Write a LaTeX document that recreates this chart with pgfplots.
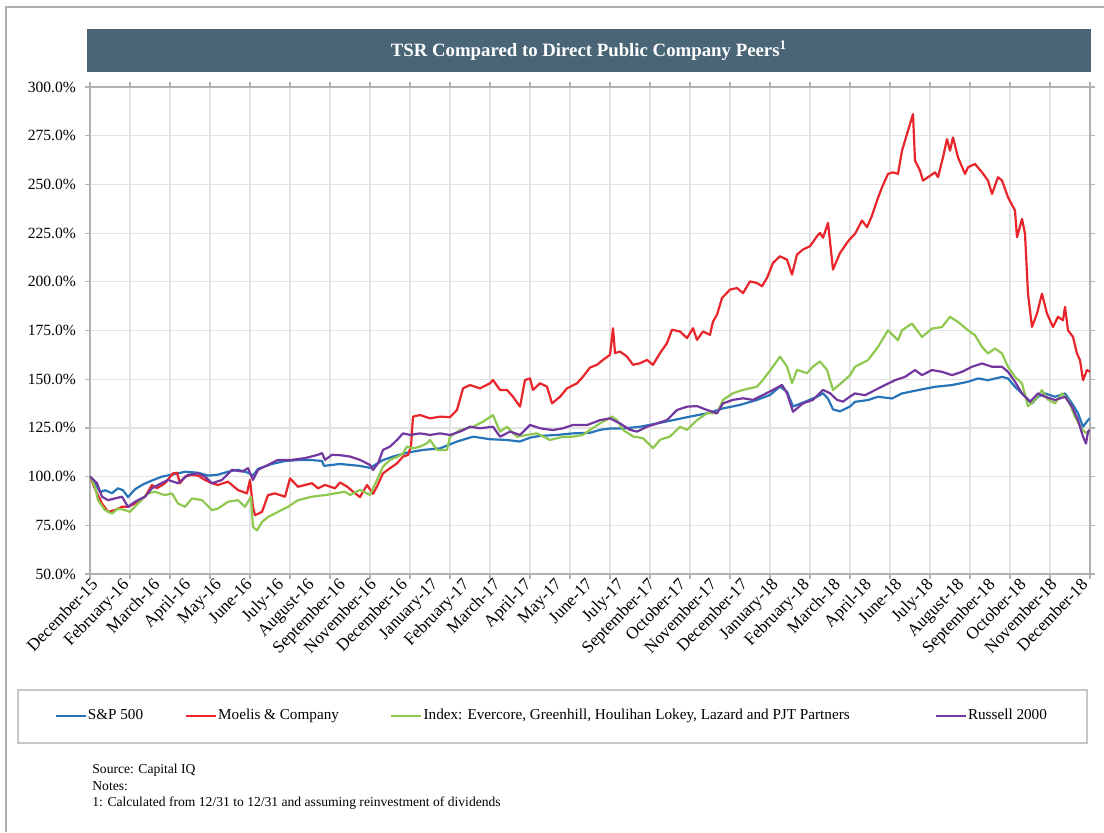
\documentclass[border=0pt]{standalone}
\usepackage{fontspec}
\setmainfont{Liberation Serif}
\usepackage{pgfplots}
\pgfplotsset{compat=1.18}
\definecolor{spblue}{RGB}{40,116,184}
\definecolor{mred}{RGB}{232,37,42}
\definecolor{igreen}{RGB}{143,200,80}
\definecolor{rpurple}{RGB}{115,55,160}
\definecolor{titlebar}{RGB}{74,101,118}
\definecolor{framegray}{RGB}{175,175,175}
\begin{document}
\begin{tikzpicture}
\begin{scope}[x=0.5pt,y=-0.5pt]
\useasboundingbox (0,0) rectangle (1104,832);
\draw[framegray, line width=0.8pt] (6,832) -- (6,7) -- (1104,7);
\fill[titlebar] (87,29) rectangle (1091,72);
\node[text=white, font=\bfseries\fontsize{9.4}{11}\selectfont] at (589,50.5) {TSR Compared to Direct Public Company Peers\textsuperscript{1}};
\draw[gray!45, line width=0.8pt, fill=white] (18,690) rectangle (1087,743);
\node[anchor=north west, align=left, font=\fontsize{6.8}{8.25}\selectfont, inner sep=0pt] at (92,764) {Source: Capital IQ\\Notes:\\1: Calculated from 12/31 to 12/31 and assuming reinvestment of dividends};
\end{scope}
\begin{axis}[
  at={(45pt,-287pt)}, anchor=south west,
  scale only axis, width=500pt, height=243.5pt,
  xmin=0, xmax=1000, ymin=50, ymax=300,
  axis line style={gray!60, line width=0.8pt},
  xtick={0,40,...,1000}, xticklabels={},
  xmajorgrids, ymajorgrids,
  major grid style={gray!22, line width=0.6pt},
  ytick={50,75,...,300},
  tick align=outside,
  major tick length=2.5pt,
  tick style={gray!60, line width=0.6pt},
  yticklabel={\pgfmathprintnumber[fixed,fixed zerofill,precision=1,assume math mode=true]{\tick}\%},
  yticklabel style={font=\fontsize{7.8}{9}\selectfont, xshift=-1pt},
  extra x ticks={0,30.9375,61.875,92.8125,123.75,154.6875,185.625,216.5625,247.5,278.4375,309.375,340.3125,371.25,402.1875,433.125,464.0625,495,525.9375,556.875,587.8125,618.75,649.6875,680.625,711.5625,742.5,773.4375,804.375,835.3125,866.25,897.1875,928.125,959.0625,990},
  extra x tick labels={December-15,February-16,March-16,April-16,May-16,June-16,July-16,August-16,September-16,November-16,December-16,January-17,February-17,March-17,April-17,May-17,June-17,July-17,September-17,October-17,November-17,December-17,January-18,February-18,March-18,April-18,June-18,July-18,August-18,September-18,October-18,November-18,December-18},
  extra x tick style={grid=none, major tick length=0pt, tick label style={rotate=46, anchor=north east, font=\fontsize{8.6}{9}\selectfont, inner sep=1pt}},
  legend columns=4,
  legend cell align=left,
  legend style={at={(-0.036,-0.2916)}, anchor=west, draw=none, fill=none, inner sep=0pt,
    font=\fontsize{7.6}{9}\selectfont,
    /tikz/every even column/.style={column sep=0pt},
    /tikz/every odd column/.style={column sep=0pt},
    nodes={inner sep=0.5pt}},
  legend image code/.code={\draw[#1, line width=1.2pt] (0pt,0pt) -- (15pt,0pt);},
  every axis plot/.append style={line width=1.1pt, line join=round},
]
\addplot[spblue] coordinates {
(0,100) (5,97) (10,92) (15,93) (22,91.5) (28,94) (33,93) (38,89.5) (45,93.5) (53,96) (62,98) (72,100) (82,101) (95,102.5) (108,102) (118,100.5) (128,101) (138,102.5) (148,103.5) (158,102) (163,100.5) (168,104) (182,106.5) (195,108) (208,108.5) (222,108.5) (232,108) (234,105.5) (242,106) (250,106.5) (260,106) (270,105.5) (280,104.5) (285,106) (293,108.5) (303,110.3) (317,112.3) (333,113.7) (350,114.5) (367,118) (383,120.5) (400,119.2) (417,118.8) (430,118) (440,120) (450,120.9) (467,121.4) (483,122.2) (500,122.5) (510,124) (520,124.7) (533,124.7) (550,125.6) (567,127.3) (583,129) (600,130.8) (617,132.5) (633,135) (650,136.8) (667,139.4) (680,141.9) (690,146.2) (697,143.6) (703,136) (713,138) (727,141) (733,142.8) (738,140) (743,134.5) (750,133.5) (760,136) (765,138.4) (778,139.3) (788,141) (802,140.1) (812,142.7) (828,144.4) (845,146.1) (862,147) (878,148.7) (888,150.4) (898,149.5) (912,151.2) (918,150.4) (925,146.1) (932,142.7) (942,137.6) (948,141) (955,142.7) (965,141) (975,142.7) (982,137.6) (988,132.5) (993,125.6) (998,129) (1000,130)
};
\addlegendentry{\makebox[48pt][l]{S\&P 500}}
\addplot[mred] coordinates {
(0,100) (7,91.4) (12,86.2) (18,81.9) (25,82.8) (32,84.5) (38,84.5) (45,86.2) (55,89.7) (62,95.7) (67,94) (75,96.6) (83,101.7) (87,102) (90,96.6) (95,100) (102,100.9) (108,100.5) (115,98.3) (122,96.6) (128,95.7) (138,97.4) (148,93.1) (157,91.4) (160,98.3) (163,84.5) (165,80.2) (172,81.9) (178,90.5) (185,91.4) (195,89.7) (200,99.1) (208,94.8) (222,96.6) (228,94) (235,95.7) (245,94) (250,97) (257,94.9) (263,92.3) (270,89.5) (277,95.7) (283,91.2) (287,94.9) (293,101.7) (300,104.3) (307,106.8) (313,110.3) (318,111.1) (321,115.4) (323,130.8) (330,131.6) (340,129.9) (350,130.8) (360,130.5) (367,134.2) (373,145.3) (380,147) (390,145.3) (400,147.9) (403,149.6) (410,144.5) (417,144.5) (423,141) (430,135.9) (435,149.6) (440,150.4) (443,144.5) (450,147.9) (457,146.2) (462,137.6) (470,141) (477,145.3) (487,147.9) (493,151.3) (500,156) (507,157.4) (513,159.9) (520,162.5) (523,176.2) (525,163.4) (530,164.2) (537,161.6) (543,157.4) (550,158.2) (557,159.9) (563,157.4) (570,163.4) (577,168.5) (582,175.4) (590,174.5) (597,171.1) (603,176.2) (607,170.2) (613,174.5) (620,172.8) (623,179.6) (627,183.1) (632,191.7) (640,196) (647,196.8) (653,194.2) (660,200.2) (667,199.4) (672,197.7) (677,202) (683,209.7) (690,213.1) (697,211.4) (702,203.7) (707,214) (713,216.6) (720,218.3) (727,223.4) (730,225.1) (733,222.6) (738,230.3) (743,206.3) (750,214.8) (757,220) (760,222) (765,224.6) (772,231.5) (777,228) (782,234) (787,241.7) (792,248.5) (798,255.4) (803,256.2) (808,255.4) (812,267.3) (817,275.9) (822,284.4) (823,286.1) (825,262.2) (830,257.1) (833,252) (838,253.7) (845,256.2) (848,253.7) (853,263.9) (857,273.3) (860,267.3) (863,274.1) (868,263.9) (875,255.4) (878,258.8) (885,260.5) (892,256.2) (898,252) (902,245.1) (908,253.7) (912,252) (918,243.4) (925,236.6) (927,222.9) (932,232.3) (935,224.6) (938,193.9) (942,176.8) (947,183.7) (952,193.9) (957,183.7) (963,176.8) (968,182) (973,180.3) (975,187.1) (978,175.1) (983,171.7) (987,163.2) (990,159.8) (993,149.5) (997,154.7) (1000,153.8)
};
\addlegendentry{\makebox[85.5pt][l]{Moelis \& Company}}
\addplot[igreen] coordinates {
(0,100) (5,94.8) (8,87.9) (15,82.8) (22,81) (28,83.6) (35,82.8) (40,81.9) (48,86.2) (58,91.4) (65,92.2) (75,90.5) (82,91.4) (88,86.2) (95,84.5) (102,88.8) (112,87.9) (122,82.8) (128,83.6) (138,87.1) (148,87.9) (155,84.5) (161,89.7) (163,74.1) (167,72.4) (172,76.7) (178,79.3) (188,81.9) (198,84.5) (208,87.9) (222,89.7) (235,90.5) (245,91.4) (255,92.2) (260,90.6) (270,93.2) (280,90.6) (287,98.3) (293,105.1) (300,108.6) (308,110.3) (313,112) (317,115.4) (323,114.5) (330,115.4) (337,117.1) (340,118.8) (347,113.7) (357,113.7) (360,120.5) (370,123.9) (383,125.6) (393,128.2) (403,131.6) (410,123.1) (417,125.6) (427,120.5) (437,121.4) (447,122.2) (460,118.8) (473,120.5) (483,120.5) (493,121.4) (500,124) (510,127.3) (522,130.8) (527,129) (533,124) (543,120.6) (553,119.7) (563,114.6) (570,118.9) (580,120.6) (590,125.6) (597,124) (607,129) (617,132.5) (627,132.5) (633,139.4) (643,142.8) (653,144.5) (667,146.2) (673,149.7) (683,156.5) (690,161.6) (697,156.5) (702,148) (707,154.8) (717,153.1) (723,156.5) (730,159.1) (737,154.8) (743,144.5) (753,148.8) (760,152) (765,156.4) (778,159.8) (788,166.6) (798,175.1) (808,170) (812,175.1) (822,178.6) (832,171.7) (842,176) (852,176.8) (860,182) (868,179.4) (878,175.1) (885,172.6) (892,166.6) (898,163.2) (905,165.8) (912,163.2) (918,156.4) (925,151.2) (932,147.8) (938,136.1) (945,139.5) (952,144.4) (958,139.5) (965,137.6) (972,142.7) (978,139.5) (985,130.8) (992,124.1) (997,122.2) (1000,124.5)
};
\addlegendentry{\makebox[255pt][l]{Index: Evercore, Greenhill, Houlihan Lokey, Lazard and PJT Partners}}
\addplot[rpurple] coordinates {
(0,100) (7,96.6) (12,89.7) (18,87.9) (25,88.8) (32,89.7) (38,84.5) (45,87.1) (55,89.7) (62,94) (68,95.7) (78,98.3) (88,96.6) (98,100.9) (108,101.7) (115,100) (122,96.6) (132,98.3) (142,103.5) (152,102.6) (158,104.3) (163,98.3) (168,103.5) (178,106) (188,108.6) (202,108.6) (215,109.5) (228,111.2) (232,112.1) (235,108.6) (242,111.2) (250,111) (260,110.3) (270,108.6) (280,106) (283,103.4) (288,106.8) (293,113.7) (300,115.4) (307,118.8) (313,122.2) (320,121.4) (330,122.2) (340,121.4) (350,122.2) (360,121.4) (370,123.1) (380,125.6) (390,124.8) (403,125.6) (410,120.5) (420,123.1) (430,121.4) (440,126.5) (450,124.8) (463,123.9) (473,124.8) (483,126.5) (497,126.5) (505,128) (510,129) (520,129.9) (530,127.3) (540,124) (547,123.1) (557,125.6) (567,127.3) (577,129) (587,134.2) (597,135.9) (607,136.2) (617,134.2) (627,132.5) (633,137.6) (643,139.4) (653,140.2) (663,139.4) (673,141.9) (683,144.5) (692,147.1) (697,142.8) (703,133.3) (713,137.6) (723,139.4) (733,144.5) (740,142.8) (747,139.4) (753,138.5) (760,141.1) (765,142.7) (775,141.8) (785,144.4) (795,147) (805,149.5) (815,151.2) (825,154.7) (832,152.1) (842,154.7) (852,153.8) (862,152.1) (872,153.8) (882,156.4) (892,158.1) (902,156.4) (912,156.4) (918,153.8) (925,148.7) (932,142.7) (940,138.4) (948,142.7) (955,141) (965,139.3) (975,141) (982,135.9) (988,129) (993,120.5) (996,117) (998,123) (1000,123.9)
};
\addlegendentry{Russell 2000}
\end{axis}
\end{tikzpicture}
\end{document}
